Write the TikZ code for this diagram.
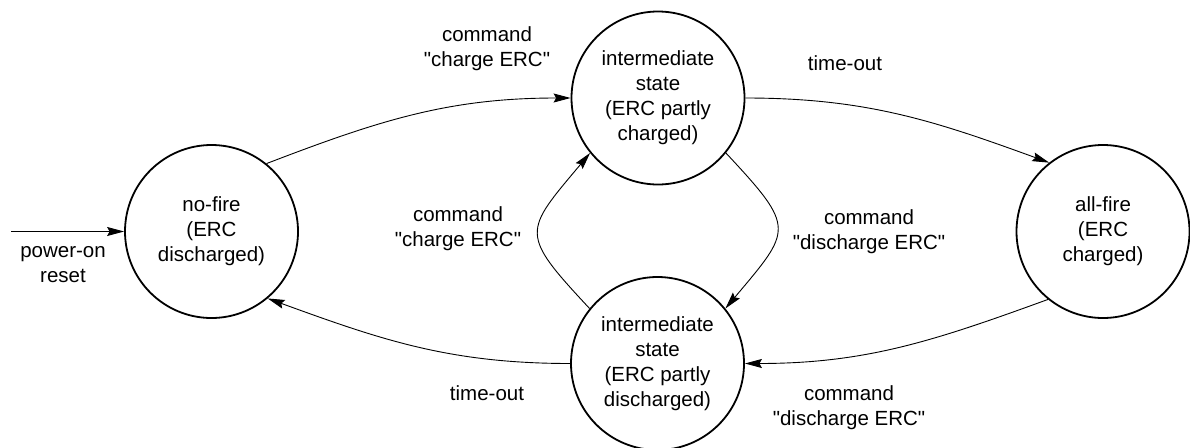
\documentclass[tikz,border=0pt]{standalone}
\usepackage{fontspec}
\setmainfont{Liberation Sans}[Ligatures=TeXOff]
\usetikzlibrary{arrows.meta}
\tikzset{
  state/.style={circle, draw, line width=1.8pt, minimum size=173pt, inner sep=0pt,
    align=center, font=\fontsize{20.5}{25}\selectfont},
  lbl/.style={align=center, inner sep=0pt, font=\fontsize{20.5}{25}\selectfont},
  conn/.style={line width=0.9pt, -{Stealth[length=17pt,width=9pt,inset=2.5pt]}},
}
\begin{document}
\begin{tikzpicture}[x=1pt,y=-1pt]
  \useasboundingbox (0,0) rectangle (1190,447);

  % states
  \node[state] (nofire)  at (211.5,231.5) {no-fire\\(ERC\\discharged)};
  \node[state] (upper)   at (658,98)      {intermediate\\state\\(ERC partly\\charged)};
  \node[state] (lower)   at (657.5,363.5) {intermediate\\state\\(ERC partly\\discharged)};
  \node[state] (allfire) at (1103,231.5)  {all-fire\\(ERC\\charged)};

  % reset entry
  \coordinate (entry) at (11,231.5);
  \draw[conn] (entry) -- (nofire.west);

  % transitions
  \draw[conn] (nofire.51) to[out=21, in=180] (upper.west);
  \draw[conn] (upper.east) to[out=0, in=160] (allfire.128.5);
  \draw[conn] (allfire.231) to[out=200, in=0] (lower.east);
  \draw[conn] (lower.west) to[out=180, in=-20] (nofire.-50.5);
  \draw[conn] (upper.-39) to[out=-47, in=50, looseness=1.7] (lower.39);
  \draw[conn] (lower.141) to[out=133, in=230, looseness=1.7] (upper.219);

  % labels
  \node[lbl] (lreset)   at (63,264.5) {power-on\\reset};
  \node[lbl] (lchg1)    at (487,49)   {command\\"charge ERC"};
  \node[lbl] (lto1)     at (845,63)   {time-out};
  \node[lbl] (lchg2)    at (458,229)  {command\\"charge ERC"};
  \node[lbl] (ldis1)    at (869,232)  {command\\"discharge ERC"};
  \node[lbl] (ldis2)    at (849,408)  {command\\"discharge ERC"};
  \node[lbl] (lto2)     at (487,393)  {time-out};
\end{tikzpicture}
\end{document}
